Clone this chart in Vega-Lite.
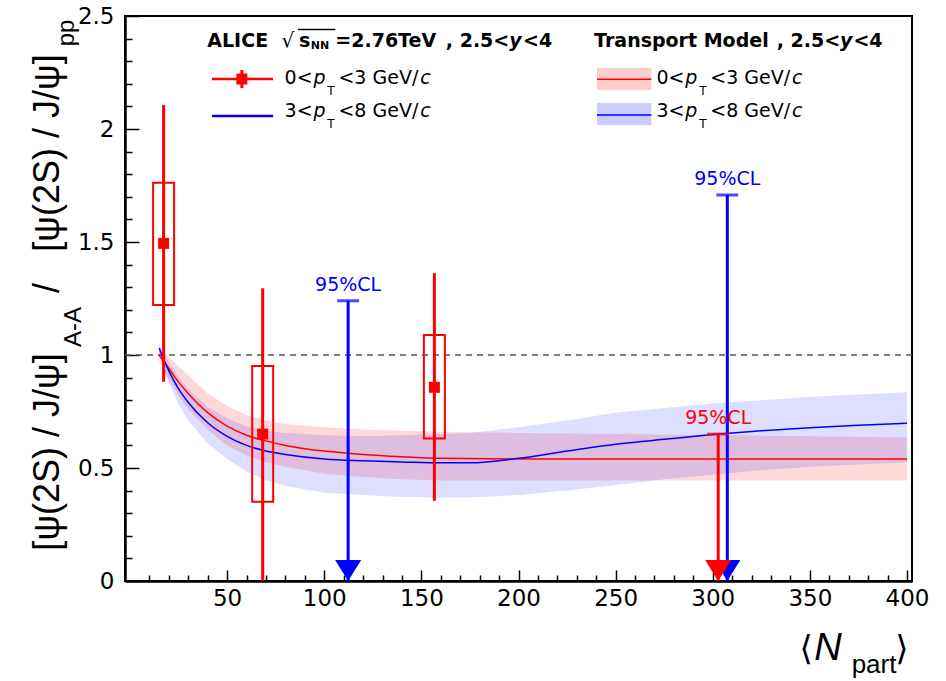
{
  "$schema": "https://vega.github.io/schema/vega-lite/v6.json",
  "width": 787,
  "height": 565,
  "autosize": {"type": "none"},
  "padding": {"left": 125, "top": 16, "right": 34, "bottom": 100},
  "background": "white",
  "config": {
    "view": {"stroke": "#000", "strokeWidth": 2},
    "axis": {"grid": false, "title": null, "domainColor": "#000", "domainWidth": 2, "tickColor": "#000", "tickWidth": 1.5, "labelFont": "DejaVu Sans", "labelFontSize": 23, "labelColor": "#000", "labelOverlap": false, "labelFlush": false}
  },
  "resolve": {"axis": {"x": "independent", "y": "independent"}},
  "datasets": {
    "model": [
      {"s": "r", "N": 15, "mid": 1.0, "lo": 0.97, "hi": 1.04},
      {"s": "r", "N": 20, "mid": 0.94, "lo": 0.89, "hi": 0.99},
      {"s": "r", "N": 25, "mid": 0.88, "lo": 0.82, "hi": 0.95},
      {"s": "r", "N": 30, "mid": 0.83, "lo": 0.76, "hi": 0.91},
      {"s": "r", "N": 40, "mid": 0.745, "lo": 0.67, "hi": 0.83},
      {"s": "r", "N": 50, "mid": 0.685, "lo": 0.6, "hi": 0.775},
      {"s": "r", "N": 60, "mid": 0.645, "lo": 0.555, "hi": 0.735},
      {"s": "r", "N": 70, "mid": 0.62, "lo": 0.525, "hi": 0.71},
      {"s": "r", "N": 80, "mid": 0.6, "lo": 0.505, "hi": 0.695},
      {"s": "r", "N": 100, "mid": 0.575, "lo": 0.475, "hi": 0.68},
      {"s": "r", "N": 120, "mid": 0.56, "lo": 0.46, "hi": 0.67},
      {"s": "r", "N": 140, "mid": 0.55, "lo": 0.45, "hi": 0.665},
      {"s": "r", "N": 160, "mid": 0.543, "lo": 0.445, "hi": 0.66},
      {"s": "r", "N": 200, "mid": 0.54, "lo": 0.445, "hi": 0.655},
      {"s": "r", "N": 250, "mid": 0.54, "lo": 0.445, "hi": 0.65},
      {"s": "r", "N": 300, "mid": 0.54, "lo": 0.445, "hi": 0.645},
      {"s": "r", "N": 350, "mid": 0.54, "lo": 0.445, "hi": 0.64},
      {"s": "r", "N": 400, "mid": 0.54, "lo": 0.445, "hi": 0.635},
      {"s": "b", "N": 15, "mid": 1.03, "lo": 1.0, "hi": 1.05},
      {"s": "b", "N": 20, "mid": 0.93, "lo": 0.88, "hi": 0.97},
      {"s": "b", "N": 25, "mid": 0.85, "lo": 0.78, "hi": 0.9},
      {"s": "b", "N": 30, "mid": 0.79, "lo": 0.71, "hi": 0.85},
      {"s": "b", "N": 40, "mid": 0.7, "lo": 0.61, "hi": 0.77},
      {"s": "b", "N": 50, "mid": 0.64, "lo": 0.54, "hi": 0.72},
      {"s": "b", "N": 60, "mid": 0.6, "lo": 0.485, "hi": 0.685},
      {"s": "b", "N": 70, "mid": 0.575, "lo": 0.445, "hi": 0.665},
      {"s": "b", "N": 80, "mid": 0.56, "lo": 0.42, "hi": 0.655},
      {"s": "b", "N": 100, "mid": 0.54, "lo": 0.39, "hi": 0.645},
      {"s": "b", "N": 120, "mid": 0.532, "lo": 0.38, "hi": 0.64},
      {"s": "b", "N": 140, "mid": 0.527, "lo": 0.372, "hi": 0.645},
      {"s": "b", "N": 160, "mid": 0.523, "lo": 0.37, "hi": 0.65},
      {"s": "b", "N": 175, "mid": 0.523, "lo": 0.37, "hi": 0.655},
      {"s": "b", "N": 200, "mid": 0.543, "lo": 0.38, "hi": 0.68},
      {"s": "b", "N": 225, "mid": 0.575, "lo": 0.4, "hi": 0.71},
      {"s": "b", "N": 250, "mid": 0.605, "lo": 0.425, "hi": 0.745},
      {"s": "b", "N": 275, "mid": 0.627, "lo": 0.45, "hi": 0.765},
      {"s": "b", "N": 300, "mid": 0.648, "lo": 0.47, "hi": 0.785},
      {"s": "b", "N": 325, "mid": 0.665, "lo": 0.49, "hi": 0.8},
      {"s": "b", "N": 350, "mid": 0.678, "lo": 0.505, "hi": 0.815},
      {"s": "b", "N": 375, "mid": 0.689, "lo": 0.515, "hi": 0.825},
      {"s": "b", "N": 400, "mid": 0.698, "lo": 0.525, "hi": 0.835}
    ],
    "pts": [
      {"N": 17.3, "v": 1.494, "sLo": 0.882, "sHi": 2.106, "bLo": 1.221, "bHi": 1.762},
      {"N": 68.3, "v": 0.65, "sLo": 0.0, "sHi": 1.295, "bLo": 0.351, "bHi": 0.951},
      {"N": 156.7, "v": 0.857, "sLo": 0.355, "sHi": 1.362, "bLo": 0.631, "bHi": 1.088}
    ],
    "lims": [
      {"N": 112.3, "lim": 1.24, "s": "b"},
      {"N": 307.5, "lim": 1.708, "s": "b"},
      {"N": 302.8, "lim": 0.65, "s": "r"}
    ],
    "legLines": [
      {"x1": 42.2, "x2": 73.7, "y": 2.221, "s": "r"},
      {"x1": 42.2, "x2": 73.7, "y": 2.058, "s": "b"}
    ],
    "legBoxes": [
      {"x1": 240.4, "x2": 268.4, "y1": 2.173, "y2": 2.27, "c": 2.22, "s": "r"},
      {"x1": 240.4, "x2": 268.4, "y1": 2.018, "y2": 2.115, "c": 2.062, "s": "b"}
    ],
    "legMarker": [
      {"x": 57.6, "y": 2.221, "lo": 2.181, "hi": 2.261}
    ],
    "txt": [
      {"x": -36.6, "y": 0.571, "t": "[ψ(2S) / J/ψ]", "k": "yt"},
      {"x": -36.6, "y": 1.296, "t": "/", "k": "yt"},
      {"x": -36.6, "y": 1.894, "t": "[ψ(2S) / J/ψ]", "k": "yt"},
      {"x": -25.4, "y": 1.124, "t": "A-A", "k": "ys"},
      {"x": -29.0, "y": 2.425, "t": "pp", "k": "ys"},
      {"x": 344.6, "y": -0.35, "t": "⟨", "k": "xt"},
      {"x": 352.2, "y": -0.35, "t": "N", "k": "xti"},
      {"x": 371.5, "y": -0.407, "t": "part", "k": "xs"},
      {"x": 393.9, "y": -0.35, "t": "⟩", "k": "xt"},
      {"x": 39.8, "y": 2.361, "t": "ALICE", "k": "hb"},
      {"x": 78.0, "y": 2.361, "t": "√", "k": "sq"},
      {"x": 87.0, "y": 2.361, "t": "s", "k": "hb"},
      {"x": 93.1, "y": 2.354, "t": "NN", "k": "hs"},
      {"x": 105.7, "y": 2.361, "t": "=2.76TeV", "k": "hb"},
      {"x": 162.6, "y": 2.361, "t": ", 2.5<", "k": "hb"},
      {"x": 195.2, "y": 2.361, "t": "y", "k": "hbi"},
      {"x": 202.3, "y": 2.361, "t": "<4", "k": "hb"},
      {"x": 238.9, "y": 2.361, "t": "Transport Model", "k": "hb"},
      {"x": 332.9, "y": 2.361, "t": ", 2.5<", "k": "hb"},
      {"x": 365.5, "y": 2.361, "t": "y", "k": "hbi"},
      {"x": 372.4, "y": 2.361, "t": "<4", "k": "hb"},
      {"x": 79.6, "y": 2.197, "t": "0<", "k": "e"},
      {"x": 94.5, "y": 2.197, "t": "p", "k": "ei"},
      {"x": 101.6, "y": 2.15, "t": "T", "k": "es"},
      {"x": 107.3, "y": 2.197, "t": "<3 GeV/", "k": "e"},
      {"x": 149.4, "y": 2.197, "t": "c", "k": "ei"},
      {"x": 79.6, "y": 2.052, "t": "3<", "k": "e"},
      {"x": 94.5, "y": 2.052, "t": "p", "k": "ei"},
      {"x": 101.6, "y": 2.004, "t": "T", "k": "es"},
      {"x": 107.3, "y": 2.052, "t": "<8 GeV/", "k": "e"},
      {"x": 149.4, "y": 2.052, "t": "c", "k": "ei"},
      {"x": 271.0, "y": 2.197, "t": "0<", "k": "e"},
      {"x": 285.9, "y": 2.197, "t": "p", "k": "ei"},
      {"x": 293.0, "y": 2.15, "t": "T", "k": "es"},
      {"x": 298.7, "y": 2.197, "t": "<3 GeV/", "k": "e"},
      {"x": 340.8, "y": 2.197, "t": "c", "k": "ei"},
      {"x": 271.0, "y": 2.052, "t": "3<", "k": "e"},
      {"x": 285.9, "y": 2.052, "t": "p", "k": "ei"},
      {"x": 293.0, "y": 2.004, "t": "T", "k": "es"},
      {"x": 298.7, "y": 2.052, "t": "<8 GeV/", "k": "e"},
      {"x": 340.8, "y": 2.052, "t": "c", "k": "ei"}
    ],
    "overline": [
      {"x1": 86.5, "x2": 105.7, "y": 2.44}
    ]
  },
  "layer": [
    {
      "data": {"name": "model"},
      "transform": [{"filter": "datum.s == 'r'"}],
      "mark": {"type": "area", "color": "#ff0000", "opacity": 0.15},
      "encoding": {
        "x": {"field": "N", "type": "quantitative", "scale": {"domain": [0, 400], "nice": false, "zero": false},
          "axis": {"orient": "bottom", "values": [50, 100, 150, 200, 250, 300, 350, 400], "tickSize": -11, "labelPadding": 17, "format": "d", "title": null}},
        "y": {"field": "lo", "type": "quantitative", "scale": {"domain": [0, 2.5], "nice": false, "zero": false},
          "axis": {"orient": "left", "values": [0, 0.5, 1, 1.5, 2, 2.5], "tickSize": -14, "labelPadding": 25, "format": "~g", "title": null}},
        "y2": {"field": "hi"}
      }
    },
    {
      "data": {"name": "model"},
      "transform": [{"filter": "datum.s == 'b'"}],
      "mark": {"type": "area", "color": "#0000ff", "opacity": 0.13},
      "encoding": {
        "x": {"field": "N", "type": "quantitative", "scale": {"domain": [0, 400]},
          "axis": {"orient": "bottom", "values": [10, 20, 30, 40, 60, 70, 80, 90, 110, 120, 130, 140, 160, 170, 180, 190, 210, 220, 230, 240, 260, 270, 280, 290, 310, 320, 330, 340, 360, 370, 380, 390], "tickSize": -6, "labels": false, "title": null}},
        "y": {"field": "lo", "type": "quantitative", "scale": {"domain": [0, 2.5]},
          "axis": {"orient": "left", "values": [0.1, 0.2, 0.3, 0.4, 0.6, 0.7, 0.8, 0.9, 1.1, 1.2, 1.3, 1.4, 1.6, 1.7, 1.8, 1.9, 2.1, 2.2, 2.3, 2.4], "tickSize": -7, "labels": false, "title": null}},
        "y2": {"field": "hi"}
      }
    },
    {
      "data": {"values": [{}]},
      "mark": {"type": "rule", "color": "#555555", "strokeWidth": 1.5, "strokeDash": [6, 5]},
      "encoding": {"y": {"datum": 1, "type": "quantitative", "axis": null, "scale": {"domain": [0, 2.5]}}}
    },
    {
      "data": {"name": "model"},
      "transform": [{"filter": "datum.s == 'r'"}],
      "mark": {"type": "line", "color": "#ff0000", "strokeWidth": 1.5, "interpolate": "monotone"},
      "encoding": {
        "x": {"field": "N", "type": "quantitative", "axis": null, "scale": {"domain": [0, 400]}},
        "y": {"field": "mid", "type": "quantitative", "axis": null, "scale": {"domain": [0, 2.5]}}
      }
    },
    {
      "data": {"name": "model"},
      "transform": [{"filter": "datum.s == 'b'"}],
      "mark": {"type": "line", "color": "#0000ff", "strokeWidth": 1.5, "interpolate": "monotone"},
      "encoding": {
        "x": {"field": "N", "type": "quantitative", "axis": null, "scale": {"domain": [0, 400]}},
        "y": {"field": "mid", "type": "quantitative", "axis": null, "scale": {"domain": [0, 2.5]}}
      }
    },
    {
      "data": {"name": "lims"},
      "mark": {"type": "rule", "strokeWidth": 3},
      "encoding": {
        "x": {"field": "N", "type": "quantitative", "axis": null, "scale": {"domain": [0, 400]}},
        "y": {"field": "lim", "type": "quantitative", "axis": null, "scale": {"domain": [0, 2.5]}},
        "y2": {"datum": 0},
        "color": {"field": "s", "type": "nominal", "scale": {"domain": ["r", "b"], "range": ["#ff0000", "#0000ff"]}, "legend": null}
      }
    },
    {
      "data": {"name": "lims"},
      "mark": {"type": "tick", "orient": "horizontal", "size": 22, "thickness": 3},
      "encoding": {
        "x": {"field": "N", "type": "quantitative", "axis": null, "scale": {"domain": [0, 400]}},
        "y": {"field": "lim", "type": "quantitative", "axis": null, "scale": {"domain": [0, 2.5]}},
        "color": {"field": "s", "type": "nominal", "scale": {"domain": ["r", "b"], "range": ["#ff0000", "#0000ff"]}, "legend": null}
      }
    },
    {
      "data": {"name": "lims"},
      "mark": {"type": "point", "shape": "M -0.62 -1 L 0.62 -1 L 0 0 Z", "size": 1764, "filled": true, "opacity": 1},
      "encoding": {
        "x": {"field": "N", "type": "quantitative", "axis": null, "scale": {"domain": [0, 400]}},
        "y": {"datum": 0, "type": "quantitative", "axis": null, "scale": {"domain": [0, 2.5]}},
        "color": {"field": "s", "type": "nominal", "scale": {"domain": ["r", "b"], "range": ["#ff0000", "#0000ff"]}, "legend": null}
      }
    },
    {
      "data": {"name": "lims"},
      "mark": {"type": "text", "font": "DejaVu Sans", "fontSize": 19, "align": "center", "baseline": "alphabetic", "dy": -10},
      "encoding": {
        "x": {"field": "N", "type": "quantitative", "axis": null, "scale": {"domain": [0, 400]}},
        "y": {"field": "lim", "type": "quantitative", "axis": null, "scale": {"domain": [0, 2.5]}},
        "text": {"value": "95%CL"},
        "color": {"field": "s", "type": "nominal", "scale": {"domain": ["r", "b"], "range": ["#ff0000", "#0000ff"]}, "legend": null}
      }
    },
    {
      "data": {"name": "pts"},
      "mark": {"type": "rule", "color": "#ff0000", "strokeWidth": 3},
      "encoding": {
        "x": {"field": "N", "type": "quantitative", "axis": null, "scale": {"domain": [0, 400]}},
        "y": {"field": "sLo", "type": "quantitative", "axis": null, "scale": {"domain": [0, 2.5]}},
        "y2": {"field": "sHi"}
      }
    },
    {
      "data": {"name": "pts"},
      "mark": {"type": "bar", "width": 21, "fillOpacity": 0, "stroke": "#ff0000", "strokeWidth": 2},
      "encoding": {
        "x": {"field": "N", "type": "quantitative", "axis": null, "scale": {"domain": [0, 400]}},
        "y": {"field": "bLo", "type": "quantitative", "axis": null, "scale": {"domain": [0, 2.5]}},
        "y2": {"field": "bHi"}
      }
    },
    {
      "data": {"name": "pts"},
      "mark": {"type": "point", "shape": "square", "size": 121, "filled": true, "color": "#ff0000", "opacity": 1},
      "encoding": {
        "x": {"field": "N", "type": "quantitative", "axis": null, "scale": {"domain": [0, 400]}},
        "y": {"field": "v", "type": "quantitative", "axis": null, "scale": {"domain": [0, 2.5]}}
      }
    },
    {
      "data": {"name": "legBoxes"},
      "mark": {"type": "rect", "opacity": 0.2},
      "encoding": {
        "x": {"field": "x1", "type": "quantitative", "axis": null, "scale": {"domain": [0, 400]}},
        "x2": {"field": "x2"},
        "y": {"field": "y1", "type": "quantitative", "axis": null, "scale": {"domain": [0, 2.5]}},
        "y2": {"field": "y2"},
        "color": {"field": "s", "type": "nominal", "scale": {"domain": ["r", "b"], "range": ["#ff0000", "#0000ff"]}, "legend": null}
      }
    },
    {
      "data": {"name": "legBoxes"},
      "mark": {"type": "rule", "strokeWidth": 1.5},
      "encoding": {
        "x": {"field": "x1", "type": "quantitative", "axis": null, "scale": {"domain": [0, 400]}},
        "x2": {"field": "x2"},
        "y": {"field": "c", "type": "quantitative", "axis": null, "scale": {"domain": [0, 2.5]}},
        "color": {"field": "s", "type": "nominal", "scale": {"domain": ["r", "b"], "range": ["#ff0000", "#0000ff"]}, "legend": null}
      }
    },
    {
      "data": {"name": "legLines"},
      "mark": {"type": "rule", "strokeWidth": 2.5},
      "encoding": {
        "x": {"field": "x1", "type": "quantitative", "axis": null, "scale": {"domain": [0, 400]}},
        "x2": {"field": "x2"},
        "y": {"field": "y", "type": "quantitative", "axis": null, "scale": {"domain": [0, 2.5]}},
        "color": {"field": "s", "type": "nominal", "scale": {"domain": ["r", "b"], "range": ["#ff0000", "#0000ff"]}, "legend": null}
      }
    },
    {
      "data": {"name": "legMarker"},
      "mark": {"type": "rule", "strokeWidth": 3, "color": "#ff0000"},
      "encoding": {
        "x": {"field": "x", "type": "quantitative", "axis": null, "scale": {"domain": [0, 400]}},
        "y": {"field": "lo", "type": "quantitative", "axis": null, "scale": {"domain": [0, 2.5]}},
        "y2": {"field": "hi"}
      }
    },
    {
      "data": {"name": "legMarker"},
      "mark": {"type": "point", "shape": "square", "size": 121, "filled": true, "color": "#ff0000", "opacity": 1},
      "encoding": {
        "x": {"field": "x", "type": "quantitative", "axis": null, "scale": {"domain": [0, 400]}},
        "y": {"field": "y", "type": "quantitative", "axis": null, "scale": {"domain": [0, 2.5]}}
      }
    },
    {
      "data": {"name": "overline"},
      "mark": {"type": "rule", "strokeWidth": 1.5, "color": "#000"},
      "encoding": {
        "x": {"field": "x1", "type": "quantitative", "axis": null, "scale": {"domain": [0, 400]}},
        "x2": {"field": "x2"},
        "y": {"field": "y", "type": "quantitative", "axis": null, "scale": {"domain": [0, 2.5]}}
      }
    },
    {
      "data": {"name": "txt"},
      "transform": [{"filter": "datum.k == 'yt'"}],
      "mark": {"type": "text", "font": "Liberation Sans", "fontSize": 36, "angle": 270, "align": "center", "baseline": "alphabetic", "color": "#000"},
      "encoding": {
        "x": {"field": "x", "type": "quantitative", "axis": null, "scale": {"domain": [0, 400]}},
        "y": {"field": "y", "type": "quantitative", "axis": null, "scale": {"domain": [0, 2.5]}},
        "text": {"field": "t"}
      }
    },
    {
      "data": {"name": "txt"},
      "transform": [{"filter": "datum.k == 'ys'"}],
      "mark": {"type": "text", "font": "Liberation Sans", "fontSize": 24, "angle": 270, "align": "center", "baseline": "alphabetic", "color": "#000"},
      "encoding": {
        "x": {"field": "x", "type": "quantitative", "axis": null, "scale": {"domain": [0, 400]}},
        "y": {"field": "y", "type": "quantitative", "axis": null, "scale": {"domain": [0, 2.5]}},
        "text": {"field": "t"}
      }
    },
    {
      "data": {"name": "txt"},
      "transform": [{"filter": "datum.k == 'xt'"}],
      "mark": {"type": "text", "font": "DejaVu Sans", "fontSize": 34, "align": "left", "baseline": "alphabetic", "color": "#000"},
      "encoding": {
        "x": {"field": "x", "type": "quantitative", "axis": null, "scale": {"domain": [0, 400]}},
        "y": {"field": "y", "type": "quantitative", "axis": null, "scale": {"domain": [0, 2.5]}},
        "text": {"field": "t"}
      }
    },
    {
      "data": {"name": "txt"},
      "transform": [{"filter": "datum.k == 'xti'"}],
      "mark": {"type": "text", "font": "Liberation Sans", "fontSize": 38, "fontStyle": "italic", "align": "left", "baseline": "alphabetic", "color": "#000"},
      "encoding": {
        "x": {"field": "x", "type": "quantitative", "axis": null, "scale": {"domain": [0, 400]}},
        "y": {"field": "y", "type": "quantitative", "axis": null, "scale": {"domain": [0, 2.5]}},
        "text": {"field": "t"}
      }
    },
    {
      "data": {"name": "txt"},
      "transform": [{"filter": "datum.k == 'xs'"}],
      "mark": {"type": "text", "font": "Liberation Sans", "fontSize": 26, "align": "left", "baseline": "alphabetic", "color": "#000"},
      "encoding": {
        "x": {"field": "x", "type": "quantitative", "axis": null, "scale": {"domain": [0, 400]}},
        "y": {"field": "y", "type": "quantitative", "axis": null, "scale": {"domain": [0, 2.5]}},
        "text": {"field": "t"}
      }
    },
    {
      "data": {"name": "txt"},
      "transform": [{"filter": "datum.k == 'hb'"}],
      "mark": {"type": "text", "font": "DejaVu Sans", "fontSize": 19, "fontWeight": "bold", "align": "left", "baseline": "alphabetic", "color": "#000"},
      "encoding": {
        "x": {"field": "x", "type": "quantitative", "axis": null, "scale": {"domain": [0, 400]}},
        "y": {"field": "y", "type": "quantitative", "axis": null, "scale": {"domain": [0, 2.5]}},
        "text": {"field": "t"}
      }
    },
    {
      "data": {"name": "txt"},
      "transform": [{"filter": "datum.k == 'hbi'"}],
      "mark": {"type": "text", "font": "DejaVu Sans", "fontSize": 19, "fontWeight": "bold", "fontStyle": "italic", "align": "left", "baseline": "alphabetic", "color": "#000"},
      "encoding": {
        "x": {"field": "x", "type": "quantitative", "axis": null, "scale": {"domain": [0, 400]}},
        "y": {"field": "y", "type": "quantitative", "axis": null, "scale": {"domain": [0, 2.5]}},
        "text": {"field": "t"}
      }
    },
    {
      "data": {"name": "txt"},
      "transform": [{"filter": "datum.k == 'hs'"}],
      "mark": {"type": "text", "font": "DejaVu Sans", "fontSize": 11, "fontWeight": "bold", "align": "left", "baseline": "alphabetic", "color": "#000"},
      "encoding": {
        "x": {"field": "x", "type": "quantitative", "axis": null, "scale": {"domain": [0, 400]}},
        "y": {"field": "y", "type": "quantitative", "axis": null, "scale": {"domain": [0, 2.5]}},
        "text": {"field": "t"}
      }
    },
    {
      "data": {"name": "txt"},
      "transform": [{"filter": "datum.k == 'sq'"}],
      "mark": {"type": "text", "font": "DejaVu Sans", "fontSize": 20, "align": "left", "baseline": "alphabetic", "color": "#000"},
      "encoding": {
        "x": {"field": "x", "type": "quantitative", "axis": null, "scale": {"domain": [0, 400]}},
        "y": {"field": "y", "type": "quantitative", "axis": null, "scale": {"domain": [0, 2.5]}},
        "text": {"field": "t"}
      }
    },
    {
      "data": {"name": "txt"},
      "transform": [{"filter": "datum.k == 'e'"}],
      "mark": {"type": "text", "font": "DejaVu Sans", "fontSize": 19, "align": "left", "baseline": "alphabetic", "color": "#000"},
      "encoding": {
        "x": {"field": "x", "type": "quantitative", "axis": null, "scale": {"domain": [0, 400]}},
        "y": {"field": "y", "type": "quantitative", "axis": null, "scale": {"domain": [0, 2.5]}},
        "text": {"field": "t"}
      }
    },
    {
      "data": {"name": "txt"},
      "transform": [{"filter": "datum.k == 'ei'"}],
      "mark": {"type": "text", "font": "DejaVu Sans", "fontSize": 19, "fontStyle": "italic", "align": "left", "baseline": "alphabetic", "color": "#000"},
      "encoding": {
        "x": {"field": "x", "type": "quantitative", "axis": null, "scale": {"domain": [0, 400]}},
        "y": {"field": "y", "type": "quantitative", "axis": null, "scale": {"domain": [0, 2.5]}},
        "text": {"field": "t"}
      }
    },
    {
      "data": {"name": "txt"},
      "transform": [{"filter": "datum.k == 'es'"}],
      "mark": {"type": "text", "font": "DejaVu Sans", "fontSize": 12, "align": "left", "baseline": "alphabetic", "color": "#000"},
      "encoding": {
        "x": {"field": "x", "type": "quantitative", "axis": null, "scale": {"domain": [0, 400]}},
        "y": {"field": "y", "type": "quantitative", "axis": null, "scale": {"domain": [0, 2.5]}},
        "text": {"field": "t"}
      }
    }
  ]
}
